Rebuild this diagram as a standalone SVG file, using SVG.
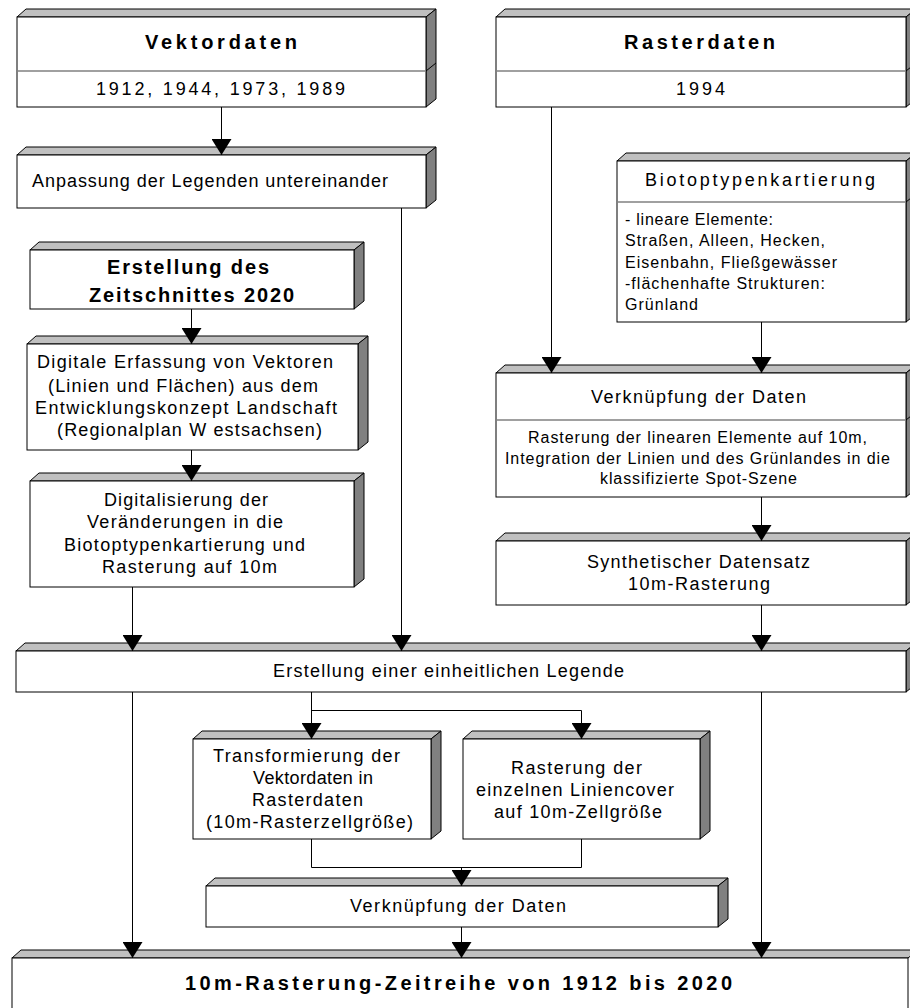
<svg xmlns="http://www.w3.org/2000/svg" width="910" height="1008" viewBox="0 0 910 1008">
<style>
.top{fill:#c0c0c0;stroke:#000;stroke-width:1}
.side{fill:#808080;stroke:#000;stroke-width:1}
.front{fill:#fff;stroke:#000;stroke-width:1}
.div{stroke:#808080;stroke-width:1.5;fill:none}
.t{font-family:"Liberation Sans",Arial,sans-serif;font-size:18px;fill:#000}
.s{font-size:16px}
.b{font-family:"Liberation Sans",Arial,sans-serif;font-size:20px;font-weight:bold;fill:#000}
.c{stroke:#000;stroke-width:1;fill:none}
</style>
<defs>
<marker id="arr" viewBox="0 0 20 16" refX="10" refY="16" markerWidth="20" markerHeight="16" markerUnits="userSpaceOnUse" orient="0">
<path d="M0,0 L20,0 L10,16 z" fill="#000"/>
</marker>
</defs>
<rect x="0" y="0" width="910" height="1008" fill="#fff"/>

<g id="vektordaten">
<polygon class="top" points="17,17 26,9 436,9 426,17"/>
<polygon class="side" points="426,17 436,9 436,99 426,107"/>
<rect class="front" x="17" y="17" width="409" height="90"/>
<line class="div" x1="17" y1="71" x2="426" y2="71"/>
<line class="c" x1="426" y1="71" x2="436" y2="63"/>
<text class="b" x="145" y="49" textLength="152" lengthAdjust="spacing">Vektordaten</text>
<text class="t" x="96" y="95" textLength="249" lengthAdjust="spacing">1912, 1944, 1973, 1989</text>
</g>

<g id="rasterdaten">
<polygon class="top" points="496,17 505,9 916,9 906,17"/>
<polygon class="side" points="906,17 916,9 916,99 906,107"/>
<rect class="front" x="496" y="17" width="410" height="90"/>
<line class="div" x1="496" y1="71" x2="906" y2="71"/>
<line class="c" x1="906" y1="71" x2="916" y2="63"/>
<text class="b" x="624" y="49" textLength="151" lengthAdjust="spacing">Rasterdaten</text>
<text class="t" x="676" y="95" textLength="49" lengthAdjust="spacing">1994</text>
</g>

<g id="anpassung">
<polygon class="top" points="17,155 26,147 436,147 426,155"/>
<polygon class="side" points="426,155 436,147 436,200 426,208"/>
<rect class="front" x="17" y="155" width="409" height="53"/>
<text class="t" x="32" y="187" textLength="356" lengthAdjust="spacing">Anpassung der Legenden untereinander</text>
</g>

<g id="biotop">
<polygon class="top" points="617,161 626,153 916,153 906,161"/>
<polygon class="side" points="906,161 916,153 916,314 906,322"/>
<rect class="front" x="617" y="161" width="289" height="161"/>
<line class="div" x1="617" y1="202" x2="906" y2="202"/>
<line class="c" x1="906" y1="202" x2="916" y2="194"/>
<text class="t" x="645" y="186" textLength="230" lengthAdjust="spacing">Biotoptypenkartierung</text>
<text class="t s" x="625" y="225" textLength="148" lengthAdjust="spacing">- lineare Elemente:</text>
<text class="t s" x="625" y="246" textLength="200" lengthAdjust="spacing">Straßen, Alleen, Hecken,</text>
<text class="t s" x="625" y="268" textLength="212" lengthAdjust="spacing">Eisenbahn, Fließgewässer</text>
<text class="t s" x="625" y="289" textLength="200" lengthAdjust="spacing">-flächenhafte Strukturen:</text>
<text class="t s" x="625" y="310" textLength="73" lengthAdjust="spacing">Grünland</text>
</g>

<g id="erstellung2020">
<polygon class="top" points="30,250 39,242 364,242 354,250"/>
<polygon class="side" points="354,250 364,242 364,301 354,309"/>
<rect class="front" x="30" y="250" width="324" height="59"/>
<text class="b" x="107" y="274" textLength="162" lengthAdjust="spacing">Erstellung des</text>
<text class="b" x="89" y="302" textLength="205" lengthAdjust="spacing">Zeitschnittes 2020</text>
</g>

<g id="digitale">
<polygon class="top" points="27,344 36,336 368,336 358,344"/>
<polygon class="side" points="358,344 368,336 368,442 358,450"/>
<rect class="front" x="27" y="344" width="331" height="106"/>
<text class="t" x="37" y="368" textLength="296" lengthAdjust="spacing">Digitale Erfassung von Vektoren</text>
<text class="t" x="48" y="392" textLength="270" lengthAdjust="spacing">(Linien und Flächen) aus dem</text>
<text class="t" x="35" y="414" textLength="302" lengthAdjust="spacing">Entwicklungskonzept Landschaft</text>
<text class="t" x="57" y="436" textLength="265" lengthAdjust="spacing">(Regionalplan W estsachsen)</text>
</g>

<g id="digitalisierung">
<polygon class="top" points="30,481 39,473 364,473 354,481"/>
<polygon class="side" points="354,481 364,473 364,579 354,587"/>
<rect class="front" x="30" y="481" width="324" height="106"/>
<text class="t" x="104" y="506" textLength="164" lengthAdjust="spacing">Digitalisierung der</text>
<text class="t" x="87" y="528" textLength="196" lengthAdjust="spacing">Veränderungen in die</text>
<text class="t" x="64" y="551" textLength="241" lengthAdjust="spacing">Biotoptypenkartierung und</text>
<text class="t" x="102" y="573" textLength="175" lengthAdjust="spacing">Rasterung auf 10m</text>
</g>

<g id="verknuepfung1">
<polygon class="top" points="496,373 505,365 916,365 906,373"/>
<polygon class="side" points="906,373 916,365 916,489 906,497"/>
<rect class="front" x="496" y="373" width="410" height="124"/>
<line class="div" x1="496" y1="420" x2="906" y2="420"/>
<line class="c" x1="906" y1="420" x2="916" y2="412"/>
<text class="t" x="591" y="403" textLength="215" lengthAdjust="spacing">Verknüpfung der Daten</text>
<text class="t s" x="528" y="443" textLength="339" lengthAdjust="spacing">Rasterung der linearen Elemente auf 10m,</text>
<text class="t s" x="505" y="464" textLength="385" lengthAdjust="spacing">Integration der Linien und des Grünlandes in die</text>
<text class="t s" x="600" y="484" textLength="197" lengthAdjust="spacing">klassifizierte Spot-Szene</text>
</g>

<g id="synthetisch">
<polygon class="top" points="496,541 505,533 916,533 906,541"/>
<polygon class="side" points="906,541 916,533 916,597 906,605"/>
<rect class="front" x="496" y="541" width="410" height="64"/>
<text class="t" x="587" y="568" textLength="223" lengthAdjust="spacing">Synthetischer Datensatz</text>
<text class="t" x="628" y="590" textLength="142" lengthAdjust="spacing">10m-Rasterung</text>
</g>

<g id="legende">
<polygon class="top" points="16,651 25,643 916,643 906,651"/>
<polygon class="side" points="906,651 916,643 916,684 906,692"/>
<rect class="front" x="16" y="651" width="890" height="41"/>
<text class="t" x="273" y="677" textLength="351" lengthAdjust="spacing">Erstellung einer einheitlichen Legende</text>
</g>

<g id="transformierung">
<polygon class="top" points="193,739 202,731 441,731 431,739"/>
<polygon class="side" points="431,739 441,731 441,831 431,839"/>
<rect class="front" x="193" y="739" width="238" height="100"/>
<text class="t" x="213" y="762" textLength="187" lengthAdjust="spacing">Transformierung der</text>
<text class="t" x="253" y="784" textLength="120" lengthAdjust="spacing">Vektordaten in</text>
<text class="t" x="252" y="806" textLength="111" lengthAdjust="spacing">Rasterdaten</text>
<text class="t" x="206" y="828" textLength="207" lengthAdjust="spacing">(10m-Rasterzellgröße)</text>
</g>

<g id="rasterung">
<polygon class="top" points="463,739 472,731 710,731 700,739"/>
<polygon class="side" points="700,739 710,731 710,831 700,839"/>
<rect class="front" x="463" y="739" width="237" height="100"/>
<text class="t" x="511" y="774" textLength="131" lengthAdjust="spacing">Rasterung der</text>
<text class="t" x="476" y="796" textLength="198" lengthAdjust="spacing">einzelnen Liniencover</text>
<text class="t" x="494" y="818" textLength="168" lengthAdjust="spacing">auf 10m-Zellgröße</text>
</g>

<g id="verknuepfung2">
<polygon class="top" points="206,886 215,878 728,878 718,886"/>
<polygon class="side" points="718,886 728,878 728,919 718,927"/>
<rect class="front" x="206" y="886" width="512" height="41"/>
<text class="t" x="350" y="912" textLength="216" lengthAdjust="spacing">Verknüpfung der Daten</text>
</g>

<g id="zeitreihe">
<polygon class="top" points="12,958 21,950 918,950 908,958"/>
<rect class="front" x="12" y="958" width="896" height="70"/>
<text class="b" x="185" y="990" textLength="547" lengthAdjust="spacing">10m-Rasterung-Zeitreihe von 1912 bis 2020</text>
</g>

<g id="connectors">
<path class="c" d="M221.5,107 V155" marker-end="url(#arr)"/>
<path class="c" d="M401.5,208 V651" marker-end="url(#arr)"/>
<path class="c" d="M551.5,107 V373" marker-end="url(#arr)"/>
<path class="c" d="M761.5,322 V373" marker-end="url(#arr)"/>
<path class="c" d="M761.5,497 V541" marker-end="url(#arr)"/>
<path class="c" d="M761.5,605 V651" marker-end="url(#arr)"/>
<path class="c" d="M191.5,309 V344" marker-end="url(#arr)"/>
<path class="c" d="M191.5,450 V481" marker-end="url(#arr)"/>
<path class="c" d="M132.5,587 V651" marker-end="url(#arr)"/>
<path class="c" d="M311.5,692 V739" marker-end="url(#arr)"/>
<path class="c" d="M311.5,710.5 H581.5 V739" marker-end="url(#arr)"/>
<path class="c" d="M311.5,839 V867.5 H581.5 V839"/>
<path class="c" d="M461.5,867 V886" marker-end="url(#arr)"/>
<path class="c" d="M461.5,927 V958" marker-end="url(#arr)"/>
<path class="c" d="M132.5,692 V958" marker-end="url(#arr)"/>
<path class="c" d="M761.5,692 V958" marker-end="url(#arr)"/>
</g>
</svg>
